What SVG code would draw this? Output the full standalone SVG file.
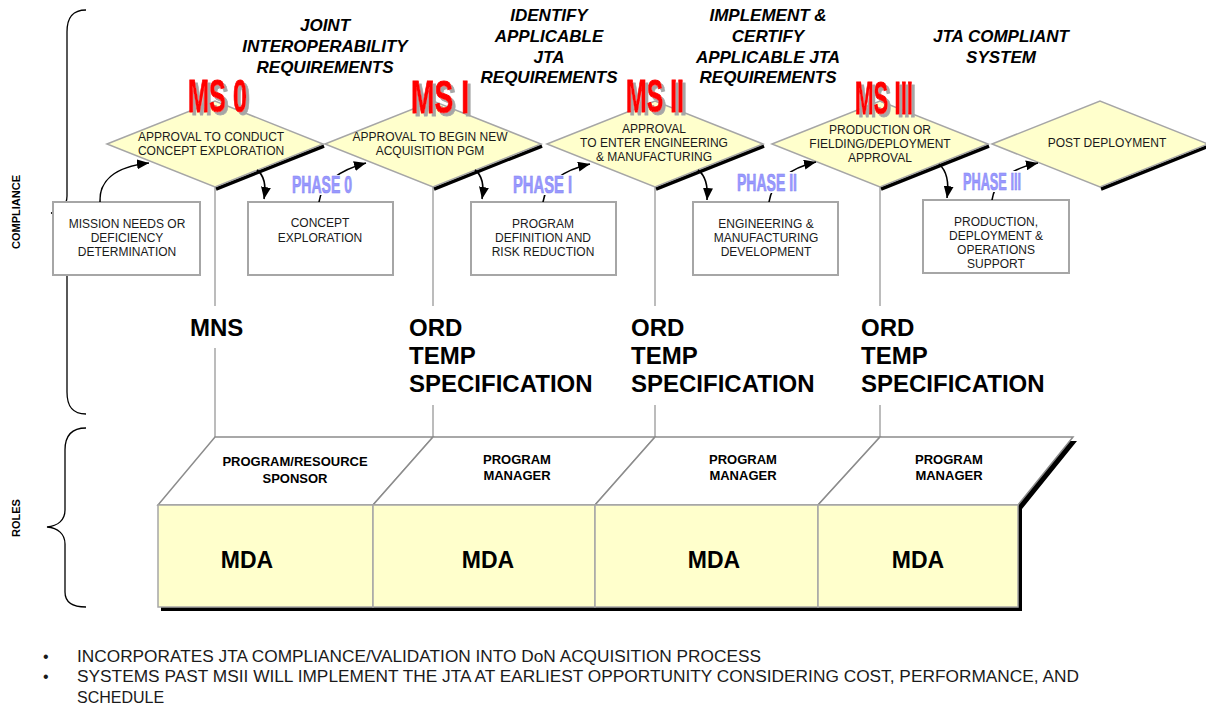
<svg xmlns="http://www.w3.org/2000/svg" width="1206" height="707" viewBox="0 0 1206 707">
  <style>
    text { font-family: "Liberation Sans", Arial, sans-serif; }
    .dia { fill: #FFFFCC; stroke: #A6A6A6; stroke-width: 1.5; }
    .dsh { fill: none; stroke: #000; stroke-width: 3.5; }
    .box { fill: #FFFFFF; stroke: #A6A6A6; stroke-width: 2; }
    .role { fill: #FFFFFF; stroke: #8C8C8C; stroke-width: 1.5; }
    .mda { fill: #FFFFCC; stroke: #A6A6A6; stroke-width: 1.5; }
    .vline { stroke: #A6A6A6; stroke-width: 1.5; fill: none; }
    .brace { stroke: #000; stroke-width: 1.3; fill: none; }
    .conn { fill: none; stroke: #000; stroke-width: 1.6; marker-end: url(#ah); }
    .t12 { font-size: 12px; fill: #1A1A1A; text-anchor: middle; }
    .rl { font-size: 13px; font-weight: bold; fill: #000; text-anchor: middle; }
    .mdaT { font-size: 23px; font-weight: bold; fill: #000; text-anchor: middle; }
    .big { font-size: 24px; font-weight: bold; fill: #000; }
    .goal { font-size: 17px; font-weight: bold; font-style: italic; fill: #000; text-anchor: middle; }
    .ms { font-size: 47px; font-weight: bold; fill: #FF0000; stroke: #FF0000; stroke-width: 1; filter: url(#msShadow); }
    .ph { font-size: 23px; font-weight: bold; fill: #9999FF; stroke: #8585F0; stroke-width: 0.6; }
    .side { font-size: 11px; font-weight: bold; fill: #000; text-anchor: middle; }
    .bul { font-size: 16px; fill: #1A1A1A; }
  </style>
  <defs>
    <marker id="ah" markerUnits="userSpaceOnUse" markerWidth="12" markerHeight="10" refX="12" refY="5" orient="auto">
      <path d="M0,0 L12,5 L0,10 z" fill="#000"/>
    </marker>
    <!-- grey drop shadow behind the milestone tags -->
    <filter id="msShadow" x="-10%" y="-10%" width="130%" height="130%">
      <feOffset in="SourceAlpha" dx="3" dy="3" result="off"/>
      <feFlood flood-color="#A6A6A6"/>
      <feComposite in2="off" operator="in" result="sh"/>
      <feMerge>
        <feMergeNode in="sh"/>
        <feMergeNode in="SourceGraphic"/>
      </feMerge>
    </filter>
  </defs>

  <!-- side braces and labels -->
  <g id="compliance-brace">
    <path class="brace" d="M86,10 C72,10 67,18 67,32 L67,196 C67,206 60,212 51,213 C60,214 67,220 67,230 L67,392 C67,406 72,414 86,414"/>
    <text class="side" transform="translate(20,212) rotate(-90)">COMPLIANCE</text>
  </g>
  <g id="roles-brace">
    <path class="brace" d="M86,428 C72,428 65,436 65,450 L65,510 C65,520 58,526 47,527 C58,528 65,534 65,544 L65,592 C65,602 72,607 86,607"/>
    <text class="side" transform="translate(20,518) rotate(-90)">ROLES</text>
  </g>

  <!-- goal headings -->
  <g id="goal-jir">
    <text class="goal" x="325" y="31">JOINT</text>
    <text class="goal" x="325" y="52">INTEROPERABILITY</text>
    <text class="goal" x="325" y="73">REQUIREMENTS</text>
  </g>
  <g id="goal-identify">
    <text class="goal" x="549" y="21">IDENTIFY</text>
    <text class="goal" x="549" y="42">APPLICABLE</text>
    <text class="goal" x="549" y="63">JTA</text>
    <text class="goal" x="549" y="83">REQUIREMENTS</text>
  </g>
  <g id="goal-implement">
    <text class="goal" x="768" y="21">IMPLEMENT &amp;</text>
    <text class="goal" x="768" y="42">CERTIFY</text>
    <text class="goal" x="768" y="63">APPLICABLE JTA</text>
    <text class="goal" x="768" y="83">REQUIREMENTS</text>
  </g>
  <g id="goal-compliant">
    <text class="goal" x="1001" y="42">JTA COMPLIANT</text>
    <text class="goal" x="1001" y="63">SYSTEM</text>
  </g>

  <!-- vertical leader lines from milestones down to roles -->
  <g id="leaders">
    <path class="vline" d="M215,187 V306 M215,348 V437"/>
    <path class="vline" d="M433,187 V306 M433,405 V437"/>
    <path class="vline" d="M655,187 V306 M655,405 V437"/>
    <path class="vline" d="M880,187 V306 M880,405 V437"/>
  </g>

  <!-- milestone decision diamonds -->
  <g id="ms0">
    <path class="dsh" d="M324,146 L216,189"/>
    <polygon class="dia" points="107,144 215,101 323,144 215,187"/>
    <text class="t12" x="211" y="141">APPROVAL TO CONDUCT</text>
    <text class="t12" x="211" y="155">CONCEPT EXPLORATION</text>
    <text class="ms" x="188" y="112" textLength="59" lengthAdjust="spacingAndGlyphs">MS 0</text>
  </g>
  <g id="ms1">
    <path class="dsh" d="M542,146 L434,189"/>
    <polygon class="dia" points="325,144 433,101 541,144 433,187"/>
    <text class="t12" x="430" y="141">APPROVAL TO BEGIN NEW</text>
    <text class="t12" x="430" y="155">ACQUISITION PGM</text>
    <text class="ms" x="411" y="113" textLength="58" lengthAdjust="spacingAndGlyphs">MS I</text>
  </g>
  <g id="ms2">
    <path class="dsh" d="M764,146 L656,189"/>
    <polygon class="dia" points="547,144 655,101 763,144 655,187"/>
    <text class="t12" x="654" y="133">APPROVAL</text>
    <text class="t12" x="654" y="147">TO ENTER ENGINEERING</text>
    <text class="t12" x="654" y="161">&amp; MANUFACTURING</text>
    <text class="ms" x="626" y="112" textLength="58" lengthAdjust="spacingAndGlyphs">MS II</text>
  </g>
  <g id="ms3">
    <path class="dsh" d="M989,146 L881,189"/>
    <polygon class="dia" points="772,144 880,101 988,144 880,187"/>
    <text class="t12" x="880" y="134">PRODUCTION OR</text>
    <text class="t12" x="880" y="148">FIELDING/DEPLOYMENT</text>
    <text class="t12" x="880" y="162">APPROVAL</text>
    <text class="ms" x="855" y="114" textLength="58" lengthAdjust="spacingAndGlyphs">MS III</text>
  </g>
  <g id="post-deployment">
    <path class="dsh" d="M1209,146 L1101,189"/>
    <polygon class="dia" points="992,144 1100,101 1208,144 1100,187"/>
    <text class="t12" x="1107" y="147">POST DEPLOYMENT</text>
  </g>

  <!-- phase activity boxes -->
  <g id="mission-needs">
    <rect class="box" x="53" y="202" width="147" height="73"/>
    <text class="t12" x="127" y="228">MISSION NEEDS OR</text>
    <text class="t12" x="127" y="242">DEFICIENCY</text>
    <text class="t12" x="127" y="256">DETERMINATION</text>
  </g>
  <g id="concept-exploration">
    <rect class="box" x="248" y="202" width="145" height="73"/>
    <text class="t12" x="320" y="227">CONCEPT</text>
    <text class="t12" x="320" y="242">EXPLORATION</text>
  </g>
  <g id="program-definition">
    <rect class="box" x="471" y="202" width="145" height="73"/>
    <text class="t12" x="543" y="228">PROGRAM</text>
    <text class="t12" x="543" y="242">DEFINITION AND</text>
    <text class="t12" x="543" y="256">RISK REDUCTION</text>
  </g>
  <g id="emd">
    <rect class="box" x="693" y="202" width="145" height="73"/>
    <text class="t12" x="766" y="228">ENGINEERING &amp;</text>
    <text class="t12" x="766" y="242">MANUFACTURING</text>
    <text class="t12" x="766" y="256">DEVELOPMENT</text>
  </g>
  <g id="production">
    <rect class="box" x="923" y="200" width="146" height="73"/>
    <text class="t12" x="996" y="226">PRODUCTION,</text>
    <text class="t12" x="996" y="240">DEPLOYMENT &amp;</text>
    <text class="t12" x="996" y="254">OPERATIONS</text>
    <text class="t12" x="996" y="268">SUPPORT</text>
  </g>

  <!-- flow connectors -->
  <g id="connectors">
    <path class="conn" d="M100,202 C99,182 113,167 149,163"/>
    <path class="conn" d="M257,170 C265,176 266,187 264,199"/>
    <path class="conn" d="M319,202 C322,182 340,170 366,163"/>
    <path class="conn" d="M475,170 C483,176 484,187 482,199"/>
    <path class="conn" d="M543,202 C546,182 564,170 590,164"/>
    <path class="conn" d="M698,170 C706,176 708,188 707,200"/>
    <path class="conn" d="M769,202 C772,182 790,168 816,162"/>
    <path class="conn" d="M939,164 C947,171 949,184 947,198"/>
    <path class="conn" d="M992,200 C995,180 1013,168 1038,163"/>
  </g>

  <!-- phase labels -->
  <g id="phase0">
    <rect x="289" y="175" width="66" height="20" fill="#FFFFFF"/>
    <text class="ph" x="292" y="193" textLength="60" lengthAdjust="spacingAndGlyphs">PHASE 0</text>
  </g>
  <g id="phase1">
    <rect x="510" y="175" width="65" height="20" fill="#FFFFFF"/>
    <text class="ph" x="513" y="193" textLength="59" lengthAdjust="spacingAndGlyphs">PHASE I</text>
  </g>
  <g id="phase2">
    <rect x="734" y="172" width="66" height="21" fill="#FFFFFF"/>
    <text class="ph" x="737" y="191" textLength="60" lengthAdjust="spacingAndGlyphs">PHASE II</text>
  </g>
  <g id="phase3">
    <rect x="960" y="171" width="64" height="21" fill="#FFFFFF"/>
    <text class="ph" x="963" y="190" textLength="58" lengthAdjust="spacingAndGlyphs">PHASE III</text>
  </g>

  <!-- documents produced at each milestone -->
  <g id="doc-mns">
    <text class="big" x="190" y="336">MNS</text>
  </g>
  <g id="doc-ms1">
    <text class="big" x="409" y="336">ORD</text>
    <text class="big" x="409" y="364">TEMP</text>
    <text class="big" x="409" y="392">SPECIFICATION</text>
  </g>
  <g id="doc-ms2">
    <text class="big" x="631" y="336">ORD</text>
    <text class="big" x="631" y="364">TEMP</text>
    <text class="big" x="631" y="392">SPECIFICATION</text>
  </g>
  <g id="doc-ms3">
    <text class="big" x="861" y="336">ORD</text>
    <text class="big" x="861" y="364">TEMP</text>
    <text class="big" x="861" y="392">SPECIFICATION</text>
  </g>

  <!-- roles block: sponsor/manager row over MDA row -->
  <g id="roles">
    <polygon points="218,441 1077,441 1022,509 1022,611 161,611 161,509" fill="#000"/>
    <polygon class="role" points="215,437 433,437 373,505 158,505"/>
    <polygon class="role" points="433,437 655,437 595,505 373,505"/>
    <polygon class="role" points="655,437 880,437 818,505 595,505"/>
    <polygon class="role" points="880,437 1073,437 1018,505 818,505"/>
    <rect class="mda" x="158" y="505" width="215" height="102"/>
    <rect class="mda" x="373" y="505" width="222" height="102"/>
    <rect class="mda" x="595" y="505" width="223" height="102"/>
    <rect class="mda" x="818" y="505" width="200" height="102"/>
  </g>
  <g id="role-sponsor">
    <text class="rl" x="295" y="466">PROGRAM/RESOURCE</text>
    <text class="rl" x="295" y="483">SPONSOR</text>
    <text class="mdaT" x="247" y="568">MDA</text>
  </g>
  <g id="role-pm1">
    <text class="rl" x="517" y="464">PROGRAM</text>
    <text class="rl" x="517" y="480">MANAGER</text>
    <text class="mdaT" x="488" y="568">MDA</text>
  </g>
  <g id="role-pm2">
    <text class="rl" x="743" y="464">PROGRAM</text>
    <text class="rl" x="743" y="480">MANAGER</text>
    <text class="mdaT" x="714" y="568">MDA</text>
  </g>
  <g id="role-pm3">
    <text class="rl" x="949" y="464">PROGRAM</text>
    <text class="rl" x="949" y="480">MANAGER</text>
    <text class="mdaT" x="918" y="568">MDA</text>
  </g>

  <!-- notes -->
  <g id="notes">
    <text class="bul" x="43" y="662">•</text>
    <text class="bul" x="77" y="662" textLength="684" lengthAdjust="spacingAndGlyphs">INCORPORATES JTA COMPLIANCE/VALIDATION INTO DoN ACQUISITION PROCESS</text>
    <text class="bul" x="43" y="682">•</text>
    <text class="bul" x="77" y="682" textLength="1002" lengthAdjust="spacingAndGlyphs">SYSTEMS PAST MSII WILL IMPLEMENT THE JTA AT EARLIEST OPPORTUNITY CONSIDERING COST, PERFORMANCE, AND</text>
    <text class="bul" x="77" y="703">SCHEDULE</text>
  </g>
</svg>
